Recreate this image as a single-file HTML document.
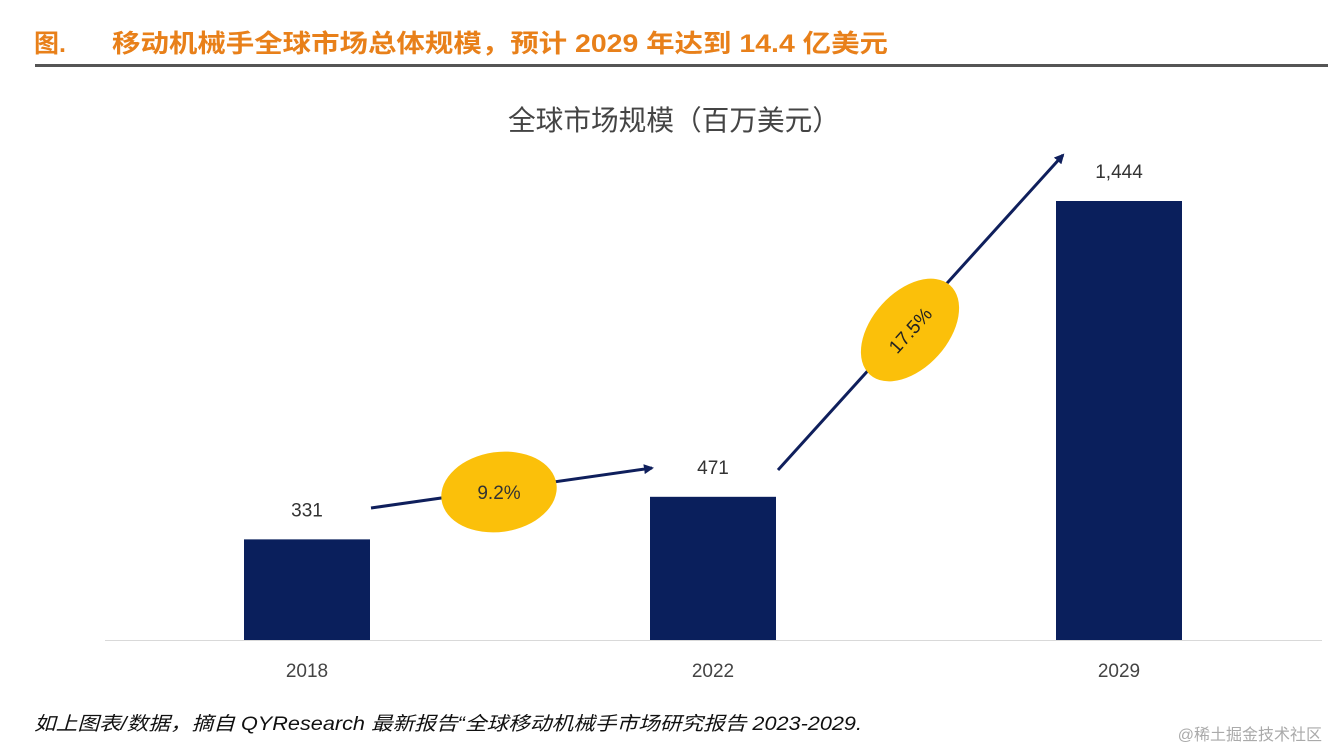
<!DOCTYPE html>
<html><head><meta charset="utf-8"><style>
body{margin:0;width:1328px;height:750px;background:#fff;overflow:hidden;font-family:"Liberation Sans","Noto Sans CJK SC",sans-serif;}
</style></head><body>
<svg width="1328" height="750" style="position:absolute;left:0;top:0">
<defs><marker id="ah" markerWidth="10" markerHeight="10" refX="8" refY="5" orient="auto" markerUnits="userSpaceOnUse"><path d="M0,0 L10,5 L0,10 z" fill="#0f1f5c"/></marker></defs>
<text x="34" y="52" font-size="25" font-weight="bold" fill="#e8801a" font-family="Liberation Sans,Noto Sans CJK SC,sans-serif">图.</text>
<text x="112" y="52" font-size="25" font-weight="bold" fill="#e8801a" textLength="776" lengthAdjust="spacingAndGlyphs" font-family="Liberation Sans,Noto Sans CJK SC,sans-serif">移动机械手全球市场总体规模，预计 2029 年达到 14.4 亿美元</text>
<rect x="35" y="64" width="1293" height="3" fill="#555"/>
<text x="508" y="130" font-size="28" fill="#444" textLength="332" lengthAdjust="spacingAndGlyphs">全球市场规模（百万美元）</text>
<line x1="105" y1="640.5" x2="1322" y2="640.5" stroke="#d9d9d9" stroke-width="1"/>
<g id="bars"></g>
<line x1="371" y1="508" x2="652" y2="468" stroke="#0f1f5c" stroke-width="3" marker-end="url(#ah)"/>
<ellipse cx="499" cy="492" rx="58" ry="40" transform="rotate(-8 499 492)" fill="#fbc00a"/>
<text x="499" y="499" font-size="19" fill="#333" text-anchor="middle">9.2%</text>
<line x1="778" y1="470" x2="1063" y2="155" stroke="#0f1f5c" stroke-width="3" marker-end="url(#ah)"/>
<ellipse cx="910" cy="330" rx="60" ry="38" transform="rotate(-48 910 330)" fill="#fbc00a"/>
<text x="910" y="337" font-size="19" fill="#222" text-anchor="middle" transform="rotate(-48 910 330)">17.5%</text>
<text x="34" y="730" font-size="19" font-style="italic" fill="#111" textLength="828" lengthAdjust="spacingAndGlyphs">如上图表/数据，摘自 QYResearch 最新报告“全球移动机械手市场研究报告 2023-2029.</text>
<text x="1322" y="740" font-size="16" fill="#aaa" text-anchor="end">@稀土掘金技术社区</text>
</svg>
<script>
const categories=["2018","2022","2029"];
const values=[331,471,1444];
const valueLabels=["331","471","1,444"];
const g=document.getElementById('bars');
const ns='http://www.w3.org/2000/svg';
const base=640, scale=439/1444;
const xc=i=>307+i*406;
categories.forEach((c,i)=>{
  const h=values[i]*scale;
  const r=document.createElementNS(ns,'rect');
  
  
  r.setAttribute('x',xc(i)-63);r.setAttribute('y',base-h);
  r.setAttribute('width',126);r.setAttribute('height',h);r.setAttribute('fill','#0a1f5c');
  g.appendChild(r);
  const t=document.createElementNS(ns,'text');
  
  
  t.setAttribute('x',xc(i));t.setAttribute('y',base-h-23);
  t.setAttribute('font-size','19');t.setAttribute('fill','#333');t.setAttribute('text-anchor','middle');
  t.textContent=valueLabels[i];g.appendChild(t);
  const x=document.createElementNS(ns,'text');
  
  
  x.setAttribute('x',xc(i));x.setAttribute('y',677);
  x.setAttribute('font-size','19');x.setAttribute('fill','#444');x.setAttribute('text-anchor','middle');
  x.textContent=c;g.appendChild(x);
});
</script>
</body></html>
